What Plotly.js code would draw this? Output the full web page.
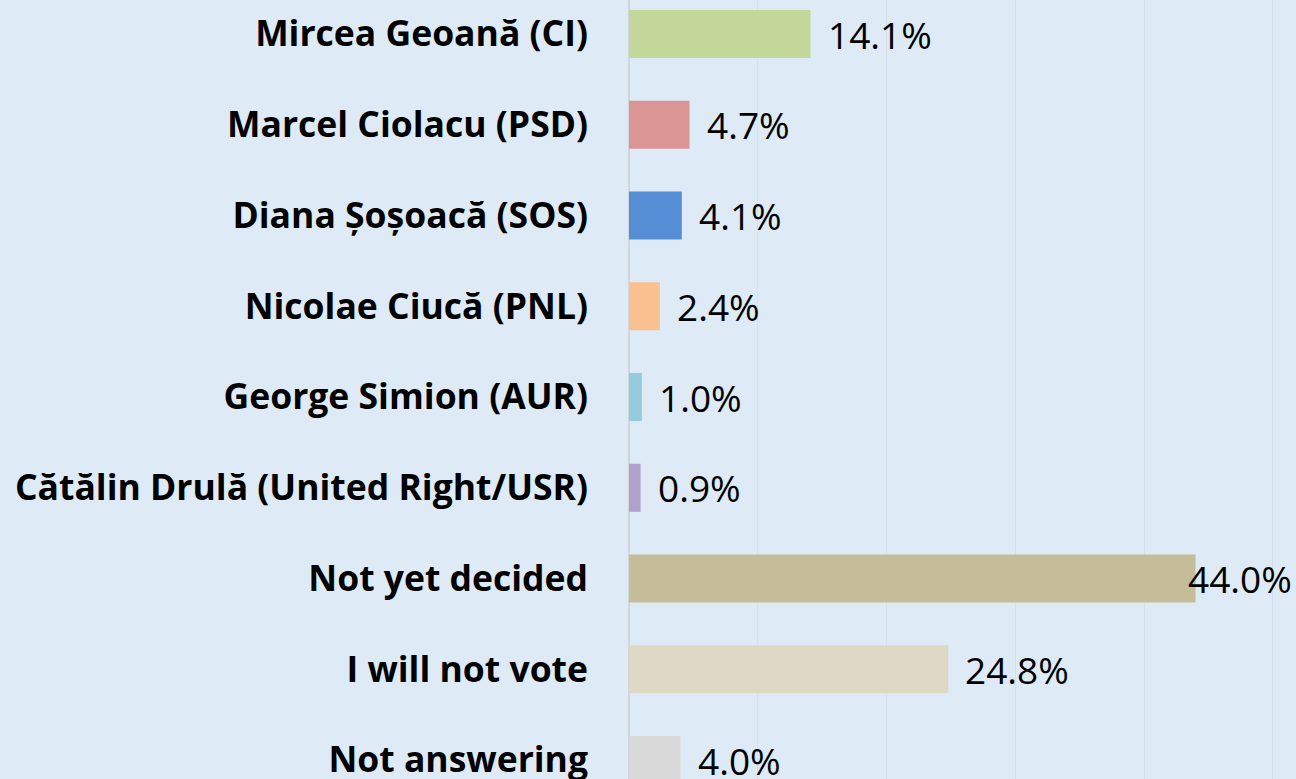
<!DOCTYPE html>
<html>
<head>
<meta charset="utf-8">
<script src="https://cdn.plot.ly/plotly-3.0.1.min.js"></script>
<style>html,body{margin:0;padding:0;background:#DEEBF7;}#chart{width:1296px;height:779px;}</style>
</head>
<body>
<div id="chart"></div>
<script>
const categories = [
  "Mircea Geoană (CI)",
  "Marcel Ciolacu (PSD)",
  "Diana Șoșoacă (SOS)",
  "Nicolae Ciucă (PNL)",
  "George Simion (AUR)",
  "Cătălin Drulă (United Right/USR)",
  "Not yet decided",
  "I will not vote",
  "Not answering"
];
const values = [14.1, 4.7, 4.1, 2.4, 1.0, 0.9, 44.0, 24.8, 4.0];
const valueLabels = values.map(v => v.toFixed(1) + "%");

const barColors = ["#C4D79B", "#DA9694", "#558ED5", "#FAC090", "#93CDDD", "#B1A0C7", "#C4BD97", "#DDD9C4", "#D9D9D9"];

const trace = {
  type: "bar",
  orientation: "h",
  x: values,
  y: categories,
  marker: {color: barColors},
  width: 0.53,
  hoverinfo: "none"
};

const annotations = values.map((v, i) => ({
  x: v,
  y: categories[i],
  xref: "x",
  yref: "y",
  text: valueLabels[i],
  showarrow: false,
  xanchor: "left",
  yanchor: "middle",
  xshift: v > 40 ? -10 : 15,
  font: {family: "Open Sans, sans-serif", size: 37, color: "#000"}
}));

const layout = {
  width: 1296,
  height: 779,
  margin: {l: 629, r: 0, t: 0, b: 0, pad: 0},
  paper_bgcolor: "#DEEBF7",
  plot_bgcolor: "#DEEBF7",
  showlegend: false,
  bargap: 0.47,
  xaxis: {
    range: [0, 51.8],
    dtick: 10,
    showticklabels: false,
    showgrid: true,
    gridcolor: "#D5E1EE",
    gridwidth: 1,
    zeroline: true,
    zerolinecolor: "#D0D6DC",
    zerolinewidth: 2,
    fixedrange: true
  },
  yaxis: {
    type: "category",
    range: [8.209, -0.375],
    ticks: "",
    showgrid: false,
    zeroline: false,
    ticklabelstandoff: 40,
    tickfont: {family: "Open Sans, sans-serif", size: 35.5, color: "#000", weight: "bold"},
    fixedrange: true
  },
  annotations: annotations
};

Plotly.newPlot("chart", [trace], layout, {displayModeBar: false, staticPlot: true});
</script>
</body>
</html>
